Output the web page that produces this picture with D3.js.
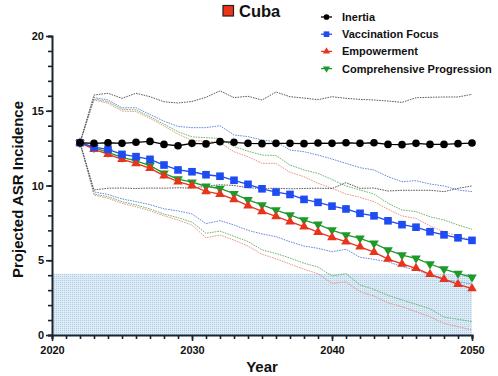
<!DOCTYPE html>
<html><head><meta charset="utf-8">
<script src="https://cdn.jsdelivr.net/npm/d3@7"></script>
<style>body{margin:0;background:#fff}svg{display:block;font-family:"Liberation Sans",Arial,sans-serif}</style>
</head><body><svg id="c" width="498" height="376"></svg>
<script>
const years=[2022,2023,2024,2025,2026,2027,2028,2029,2030,2031,2032,2033,2034,2035,2036,2037,2038,2039,2040,2041,2042,2043,2044,2045,2046,2047,2048,2049,2050];
const inertia=[12.86,12.82,12.86,12.82,12.89,12.95,12.75,12.66,12.82,12.78,12.93,12.89,12.82,12.8,12.82,12.82,12.8,12.84,12.82,12.86,12.82,12.86,12.75,12.73,12.82,12.75,12.75,12.8,12.84];
const inertiaHi=[12.86,16.05,16.17,15.83,16.17,15.94,15.6,15.52,15.62,15.9,16.33,15.88,15.97,15.72,16.25,15.94,15.85,15.74,15.94,15.83,15.76,15.72,15.65,15.56,15.87,15.9,15.92,15.92,16.1];
const inertiaLo=[12.86,9.7,9.82,9.83,9.8,9.83,9.82,9.85,9.83,9.95,10.05,10.0,9.85,9.8,9.82,9.78,9.8,9.82,9.8,10.19,9.81,9.83,9.63,9.68,9.68,9.68,9.59,9.81,9.97];
const vacc=[12.86,12.57,12.42,12.08,11.93,11.75,11.37,11.04,10.92,10.72,10.62,10.35,10.08,9.78,9.56,9.4,9.07,8.87,8.62,8.43,8.14,7.97,7.64,7.38,7.21,6.91,6.7,6.5,6.33];
const vaccHi=[12.86,15.88,15.72,15.2,15.2,14.75,14.3,13.95,13.87,13.87,14.0,13.38,13.27,13.04,12.93,12.37,12.26,12.04,11.77,11.48,11.19,11.04,10.59,10.26,10.32,10.1,9.97,9.7,9.59];
const vaccLo=[12.86,9.57,9.4,9.1,8.92,8.72,8.44,8.3,8.1,7.45,7.65,7.36,7.0,6.76,6.58,6.24,5.95,5.8,5.57,5.73,5.2,5.06,4.9,4.57,4.35,4.01,3.68,3.57,3.41];
const emp=[12.86,12.42,12.1,11.75,11.48,11.15,10.66,10.26,9.99,9.6,9.42,9.07,8.65,8.27,7.93,7.58,7.25,6.88,6.53,6.24,5.9,5.54,5.08,4.75,4.46,4.06,3.73,3.39,3.11];
const empHi=[12.86,15.72,15.5,14.98,14.94,14.49,13.98,13.44,13.0,12.98,12.87,12.26,11.93,11.48,11.48,10.88,10.59,10.15,9.81,9.43,9.21,8.92,8.41,7.96,7.8,7.29,6.91,6.62,6.35];
const empLo=[12.86,9.36,9.14,8.81,8.58,8.31,7.98,7.69,7.36,6.5,6.69,6.35,5.95,5.4,5.1,4.75,4.4,4.1,3.46,3.55,2.9,2.61,2.15,1.9,1.56,1.22,0.78,0.56,0.33];
const comp=[12.86,12.53,12.22,11.88,11.64,11.33,10.81,10.43,10.22,9.95,9.8,9.45,9.04,8.7,8.36,8.03,7.69,7.4,7.02,6.69,6.47,6.13,5.69,5.35,5.13,4.75,4.41,4.12,3.86];
const compHi=[12.86,15.79,15.6,15.1,15.05,14.6,14.1,13.6,13.25,13.2,13.15,12.6,12.3,12.04,12.0,11.37,11.04,10.81,10.4,9.97,9.7,9.43,8.81,8.36,8.25,7.91,7.69,7.36,7.07];
const compLo=[12.86,9.43,9.25,8.92,8.7,8.43,8.09,7.85,7.55,6.8,6.95,6.6,6.25,5.7,5.45,5.15,4.8,4.55,3.95,4.1,3.35,3.05,2.65,2.35,2.05,1.75,1.2,1.05,0.9];
const target=4.1;
const xTicks=[2020,2030,2040,2050];
const yTicks=[0,5,10,15,20];
const seriesNames=["Inertia","Vaccination Focus","Empowerment","Comprehensive Progression"];
const title="Cuba";

const svg=d3.select("#c");
const x=d3.scaleLinear().domain([2020,2050]).range([52,472]);
const y=d3.scaleLinear().domain([0,20]).range([335,36]);

const defs=svg.append("defs");
const pat=defs.append("pattern").attr("id","dots").attr("width",2).attr("height",2).attr("patternUnits","userSpaceOnUse");
pat.append("rect").attr("width",2).attr("height",2).attr("fill","#dcebf6");
pat.append("rect").attr("width",1).attr("height",1).attr("fill","#aecde4");

svg.append("rect").attr("x",x(2020)).attr("y",y(target)).attr("width",x(2050)-x(2020)).attr("height",y(0)-y(target)).attr("fill","url(#dots)");

const series=[
 {name:seriesNames[0],v:inertia,hi:inertiaHi,lo:inertiaLo,color:"#000000",band:"#4a4a4a",sym:d3.symbolCircle,size:46,rot:0},
 {name:seriesNames[1],v:vacc,hi:vaccHi,lo:vaccLo,color:"#1f4cf0",band:"#5a7ad8",sym:d3.symbolSquare,size:58,rot:0},
 {name:seriesNames[2],v:emp,hi:empHi,lo:empLo,color:"#e8341c",band:"#e48a78",sym:d3.symbolTriangle,size:40,rot:0},
 {name:seriesNames[3],v:comp,hi:compHi,lo:compLo,color:"#1c9a2a",band:"#5aae5a",sym:d3.symbolTriangle,size:40,rot:180}
];
const line=d3.line().x((d,i)=>x(years[i])).y(d=>y(d));

// bands
const bandOrder=[3,2,1,0];
bandOrder.forEach(k=>{const s=series[k];
 [s.hi,s.lo].forEach(arr=>{
  svg.append("path").attr("d",line(arr)).attr("fill","none").attr("stroke",s.band).attr("stroke-width",0.9).attr("stroke-dasharray","1.6,1");
 });
});

// axes
const xAxis=d3.axisBottom(x).tickValues(d3.range(2020,2051,1)).tickSize(4).tickFormat("");
const gx=svg.append("g").attr("transform",`translate(0,${y(0)})`).call(xAxis);
gx.selectAll(".tick line").attr("stroke","#1b2433").attr("stroke-width",1.6);
const gx2=svg.append("g").attr("transform",`translate(0,${y(0)})`).call(d3.axisBottom(x).tickValues(xTicks).tickSize(6).tickFormat(d3.format("d")).tickPadding(5));
gx2.select(".domain").remove();
gx2.selectAll(".tick line").attr("stroke","#1b2433").attr("stroke-width",1.6);
gx2.selectAll("text").attr("font-size",11).attr("font-weight","bold").attr("fill","#111").attr("font-family","Liberation Sans, Arial, sans-serif");
gx.select(".domain").attr("stroke","#1b2433").attr("stroke-width",2);

const gy=svg.append("g").attr("transform",`translate(${x(2020)},0)`).call(d3.axisLeft(y).tickValues(d3.range(0,21,1)).tickSize(4).tickFormat(""));
gy.selectAll(".tick line").attr("stroke","#1b2433").attr("stroke-width",1.6);
gy.select(".domain").attr("stroke","#1b2433").attr("stroke-width",2);
const gy2=svg.append("g").attr("transform",`translate(${x(2020)},0)`).call(d3.axisLeft(y).tickValues(yTicks).tickSize(6).tickPadding(2));
gy2.select(".domain").remove();
gy2.selectAll(".tick line").attr("stroke","#1b2433").attr("stroke-width",1.6);
gy2.selectAll("text").attr("font-size",11).attr("font-weight","bold").attr("fill","#111").attr("font-family","Liberation Sans, Arial, sans-serif");

// main lines
[3,2,1,0].forEach(k=>{const s=series[k];
 svg.append("path").attr("d",line(s.v)).attr("fill","none").attr("stroke",s.color).attr("stroke-width",1.3);
 svg.append("g").selectAll("path").data(s.v).join("path")
  .attr("transform",(d,i)=>`translate(${x(years[i])},${y(d)}) rotate(${s.rot})`)
  .attr("d",d3.symbol().type(s.sym).size(s.size)).attr("fill",s.color);
});

// titles
svg.append("text").attr("x",19).attr("y",(y(0)+y(20))/2+4).attr("transform",`rotate(-90,19,${(y(0)+y(20))/2+4})`)
 .attr("text-anchor","middle").attr("dominant-baseline","middle").attr("font-size",15).attr("font-weight","bold").attr("fill","#111").text("Projected ASR Incidence");
svg.append("text").attr("x",262).attr("y",372).attr("text-anchor","middle").attr("font-size",15).attr("font-weight","bold").attr("fill","#111").text("Year");

// chart title
svg.append("rect").attr("x",223).attr("y",5.5).attr("width",10.5).attr("height",10.5).attr("fill","#ee3418").attr("stroke","#222").attr("stroke-width",1.2);
svg.append("text").attr("x",239).attr("y",16.5).attr("font-size",16.5).attr("font-weight","bold").attr("fill","#111").text(title);

// legend
const lg=svg.append("g");
series.forEach((s,i)=>{
 const cy=17+i*17.2;
 lg.append("line").attr("x1",321).attr("x2",332).attr("y1",cy).attr("y2",cy).attr("stroke",s.color).attr("stroke-width",1.3);
 lg.append("path").attr("transform",`translate(326.5,${cy}) rotate(${s.rot})`).attr("d",d3.symbol().type(s.sym).size(s.size*0.55)).attr("fill",s.color);
 lg.append("text").attr("x",342).attr("y",cy+4).attr("font-size",11).attr("font-weight","bold").attr("fill","#111").text(s.name);
});
</script></body></html>
